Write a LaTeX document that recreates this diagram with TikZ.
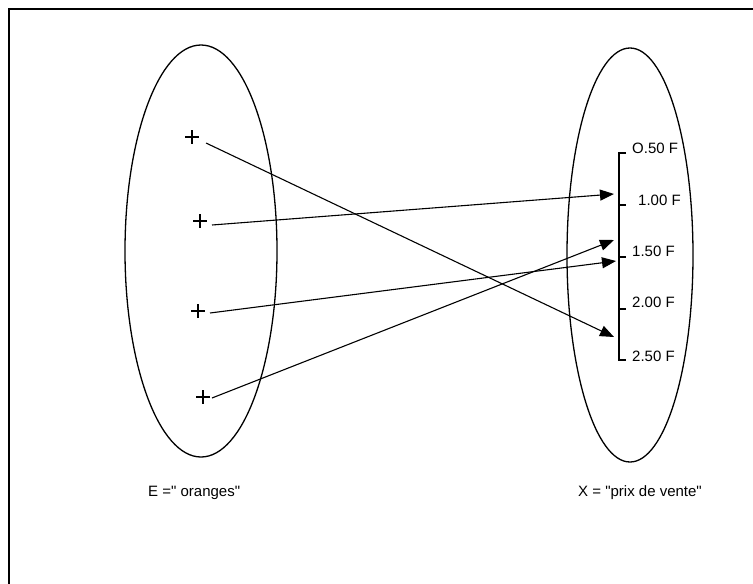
\documentclass[tikz,border=0pt]{standalone}
\usepackage{fontspec}
\setmainfont{Liberation Sans}[Ligatures=TeXOff]
\usetikzlibrary{arrows.meta,shapes.misc}

\begin{document}
\begin{tikzpicture}[x=1pt,y=-1pt,
   set/.style={line width=1.3pt},
   pt/.style={draw,cross out,rotate=45,minimum size=8.5pt,inner sep=0pt,
               line width=1.2pt},
   lab/.style={anchor=west,inner sep=0pt,font=\fontsize{15}{17}\selectfont},
   ar/.style={-{Triangle[length=14pt,width=11pt]},line width=1.1pt}]
  \useasboundingbox (0,0) rectangle (753,584);
  \draw[line width=2pt] (753,9) -- (9,9) -- (9,584);
  % the two sets
  \draw[set] (201,251) ellipse [x radius=76pt,y radius=206pt];
  \draw[set] (630,255) ellipse [x radius=63pt,y radius=207pt];
  % elements of E
  \node[pt] (e1) at (192,137) {};
  \node[pt] (e2) at (200,221) {};
  \node[pt] (e3) at (198,311) {};
  \node[pt] (e4) at (203,397) {};
  \coordinate (s1) at (206,143);
  \coordinate (s2) at (212,225);
  \coordinate (s3) at (210,313);
  \coordinate (s4) at (212,398);
  % price scale
  \draw[line width=1.2pt] (626,153) -- (619,153) -- (619,360) -- (626,360);
  \foreach \y in {205,257,309} \draw[line width=1.2pt] (619,\y) -- (626,\y);
  \node[lab] (p0) at (632,148) {O.50 F};
  \node[lab] (p1) at (638,200) {1.00 F};
  \node[lab] (p2) at (632,251) {1.50 F};
  \node[lab] (p3) at (632,302) {2.00 F};
  \node[lab] (p4) at (632,356) {2.50 F};
  \coordinate (t1) at (614,337);
  \coordinate (t2) at (614,194);
  \coordinate (t3) at (614,240);
  \coordinate (t4) at (616,261);
  \draw[ar] (s1) -- (t1);
  \draw[ar] (s2) -- (t2);
  \draw[ar] (s4) -- (t3);
  \draw[ar] (s3) -- (t4);
  % names of the sets
  \node[lab] (E) at (148,493) {E =" oranges"};
  \node[lab] (X) at (578,493) {X = "prix de vente"};
\end{tikzpicture}
\end{document}
